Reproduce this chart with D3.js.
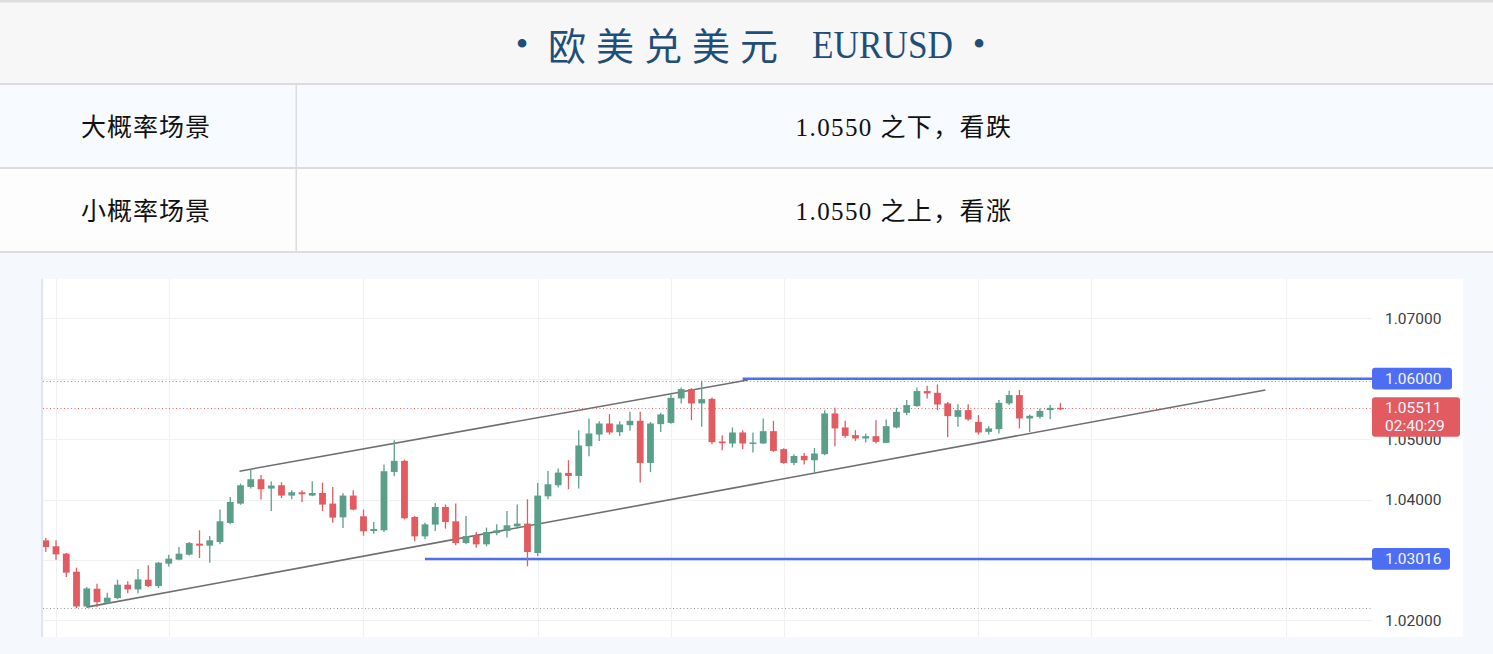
<!DOCTYPE html>
<html><head><meta charset="utf-8">
<script src="https://cdn.jsdelivr.net/npm/d3@7"></script>
<style>html,body{margin:0;padding:0;background:#f5f9fe;overflow:hidden}svg{display:block}</style>
</head><body><svg id="c" width="1493" height="654"></svg>
<script>
// ---------- data ----------
const titleCN = "欧美兑美元";
const titleEN = "EURUSD";
const scenarioLabels = ["大概率场景", "小概率场景"];
const scenarioTexts = ["1.0550 之下，看跌", "1.0550 之上，看涨"];

const opens = [1.03325,1.03226,1.03105,1.02806,1.02231,1.02524,1.02292,1.02369,1.02591,1.02513,
1.02674,1.02568,1.02939,1.03005,1.03088,1.03270,1.03237,1.03297,1.03612,1.03933,
1.04209,1.04336,1.04182,1.04237,1.04066,1.04121,1.04066,1.04109,1.03933,1.03706,
1.04066,1.03723,1.03479,1.03491,1.04457,1.04640,1.03711,1.03391,1.03585,1.03877,
1.03640,1.03280,1.03408,1.03259,1.03446,1.03479,1.03557,1.03602,1.03115,1.04054,
1.04237,1.04441,1.04391,1.04883,1.05077,1.05259,1.05115,1.05231,1.05303,1.04606,
1.05248,1.05269,1.05674,1.05828,1.05591,1.05667,1.04961,1.04928,1.05110,1.04933,
1.04928,1.05132,1.04834,1.04606,1.04722,1.04651,1.04751,1.05425,1.05193,1.05066,
1.05011,1.05049,1.04938,1.05193,1.05435,1.05546,1.05795,1.05767,1.05591,1.05369,
1.05480,1.05286,1.05120,1.05165,1.05591,1.05729,1.05342,1.05369,1.05480,1.05518];
const highs = [1.03363,1.03325,1.03115,1.02873,1.02551,1.02607,1.02458,1.02674,1.02650,1.02849,
1.02911,1.02969,1.03088,1.03214,1.03297,1.03491,1.03396,1.03834,1.04043,1.04265,
1.04497,1.04407,1.04298,1.04286,1.04154,1.04154,1.04303,1.04281,1.04209,1.04104,
1.04154,1.03834,1.03628,1.04580,1.04983,1.04659,1.03728,1.03618,1.03943,1.03917,
1.03933,1.03728,1.03463,1.03536,1.03590,1.03811,1.03917,1.04005,1.04275,1.04474,
1.04514,1.04651,1.05148,1.05342,1.05298,1.05414,1.05298,1.05452,1.05452,1.05281,
1.05435,1.05740,1.05856,1.05845,1.05966,1.05690,1.05066,1.05193,1.05148,1.05110,
1.05342,1.05303,1.04850,1.04751,1.04772,1.04855,1.05480,1.05518,1.05303,1.05148,
1.05094,1.05314,1.05326,1.05518,1.05646,1.05856,1.05883,1.05906,1.05613,1.05579,
1.05579,1.05397,1.05215,1.05646,1.05800,1.05812,1.05409,1.05508,1.05563,1.05601];
const lows = [1.03131,1.03005,1.02717,1.02203,1.02215,1.02220,1.02273,1.02355,1.02451,1.02451,
1.02551,1.02534,1.02894,1.02994,1.03076,1.03032,1.02955,1.03259,1.03590,1.03914,
1.04182,1.04000,1.03811,1.04026,1.04005,1.03960,1.04054,1.03811,1.03618,1.03529,
1.03822,1.03403,1.03436,1.03463,1.04386,1.03673,1.03308,1.03342,1.03479,1.03519,
1.03242,1.03259,1.03204,1.03226,1.03408,1.03370,1.03519,1.02894,1.03065,1.04005,
1.04199,1.04171,1.04182,1.04717,1.04971,1.05077,1.05054,1.05137,1.04281,1.04457,
1.05120,1.05256,1.05591,1.05314,1.05203,1.04916,1.04817,1.04862,1.04834,1.04779,
1.04925,1.04789,1.04593,1.04568,1.04580,1.04447,1.04734,1.04883,1.05021,1.04971,
1.04945,1.04928,1.04933,1.05177,1.05397,1.05538,1.05674,1.05480,1.05037,1.05203,
1.05303,1.05077,1.05077,1.05094,1.05563,1.05177,1.05120,1.05342,1.05331,1.05480];
const closes = [1.03214,1.03093,1.02790,1.02231,1.02529,1.02302,1.02375,1.02591,1.02513,1.02679,
1.02568,1.02955,1.03022,1.03105,1.03280,1.03237,1.03325,1.03640,1.03960,1.04237,
1.04336,1.04171,1.04232,1.04066,1.04121,1.04088,1.04109,1.03917,1.03701,1.04066,
1.03834,1.03474,1.03512,1.04469,1.04640,1.03690,1.03391,1.03590,1.03877,1.03628,
1.03280,1.03396,1.03259,1.03463,1.03491,1.03574,1.03602,1.03131,1.04066,1.04253,
1.04447,1.04391,1.04895,1.05094,1.05259,1.05110,1.05243,1.05303,1.04606,1.05259,
1.05409,1.05684,1.05828,1.05591,1.05662,1.04950,1.04933,1.05110,1.04928,1.04945,
1.05132,1.04805,1.04606,1.04722,1.04651,1.04762,1.05425,1.05177,1.05054,1.05011,
1.05049,1.04955,1.05215,1.05452,1.05563,1.05795,1.05757,1.05574,1.05381,1.05480,
1.05326,1.05110,1.05177,1.05601,1.05729,1.05342,1.05386,1.05468,1.05518,1.05511];

const yTicks = [1.02, 1.03, 1.04, 1.05, 1.06, 1.07];
const gridIndex = [1, 12, 31, 48, 61, 72, 91, 102, 121];   // time grid (bar index)
const resistance = 1.06000, resistanceStart = 68;
const support = 1.03016, supportStart = 37;
const lastPrice = 1.05511, countdown = "02:40:29";
const periodHigh = 1.05966, periodLow = 1.02203;
const upperChannel = [[18.9, 1.0447], [68.5, 1.0598]];
const lowerChannel = [[4.0, 1.0222], [119.0, 1.05812]];

// ---------- page frame ----------
const svg = d3.select("#c");
const W = 1493;
svg.append("rect").attr("x",0).attr("y",0).attr("width",W).attr("height",654).attr("fill","#f5f9fe");
svg.append("rect").attr("x",0).attr("y",0).attr("width",W).attr("height",84).attr("fill","#f7f7f7");
svg.append("rect").attr("x",0).attr("y",0).attr("width",W).attr("height",2.5).attr("fill","#dedede");
const rowBg = ["#f7faff", "#fdfdfd"];
const rowTop = [85, 169];
rowTop.forEach((t,i)=>{
  svg.append("rect").attr("x",0).attr("y",t).attr("width",W).attr("height",82).attr("fill",rowBg[i]);
});
[83, 167, 251].forEach(y=>svg.append("rect").attr("x",0).attr("y",y).attr("width",W).attr("height",2).attr("fill","#dcdcdc"));
svg.append("rect").attr("x",295.5).attr("y",85).attr("width",1.5).attr("height",166).attr("fill","#dcdcdc");

// title
const tcol = "#1f4e79";
svg.append("text").attr("x",522).attr("y",44).attr("text-anchor","middle").attr("dominant-baseline","central")
  .attr("font-family","Liberation Serif").attr("font-size",36).attr("fill",tcol).text("•");
svg.append("text").attr("x",548).attr("y",43).attr("dominant-baseline","central")
  .attr("font-family","'Noto Sans CJK SC'").attr("font-size",38).attr("letter-spacing",10).attr("fill",tcol).text(titleCN);
svg.append("text").attr("x",812).attr("y",44).attr("dominant-baseline","central")
  .attr("font-family","Liberation Serif").attr("font-size",39).attr("textLength",141).attr("lengthAdjust","spacingAndGlyphs").attr("fill",tcol).text(titleEN);
svg.append("text").attr("x",979).attr("y",44).attr("text-anchor","middle").attr("dominant-baseline","central")
  .attr("font-family","Liberation Serif").attr("font-size",36).attr("fill",tcol).text("•");

// table rows
scenarioLabels.forEach((s,i)=>{
  svg.append("text").attr("x",146).attr("y",rowTop[i]+42).attr("text-anchor","middle").attr("dominant-baseline","central")
    .attr("font-family","'Liberation Serif','Noto Sans CJK SC'").attr("font-size",25).attr("letter-spacing",1).attr("fill","#111").text(s);
  svg.append("text").attr("x",904).attr("y",rowTop[i]+42).attr("text-anchor","middle").attr("dominant-baseline","central")
    .attr("font-family","'Liberation Serif','Noto Sans CJK SC'").attr("font-size",25).attr("letter-spacing",1.4).attr("fill","#111").text(scenarioTexts[i]);
});

// ---------- chart ----------
const panel = {x0:41, y0:279, x1:1463, y1:637};
const plot = {x0:43, x1:1372};
svg.append("rect").attr("x",panel.x0).attr("y",panel.y0).attr("width",panel.x1-panel.x0).attr("height",panel.y1-panel.y0).attr("fill","#ffffff");
svg.append("rect").attr("x",panel.x0).attr("y",panel.y0).attr("width",2.2).attr("height",panel.y1-panel.y0).attr("fill","#e1e5ee");

const x = d3.scaleLinear().domain([-0.27, 129.4]).range([plot.x0, plot.x1]);
const y = d3.scaleLinear().domain([1.02, 1.07]).range([620.4, 318.3]);

svg.append("clipPath").attr("id","clip").append("rect")
  .attr("x",plot.x0).attr("y",panel.y0).attr("width",plot.x1-plot.x0).attr("height",panel.y1-panel.y0);
const g = svg.append("g").attr("clip-path","url(#clip)");

// grid
g.selectAll("line.hg").data(yTicks).join("line")
  .attr("x1",plot.x0).attr("x2",plot.x1).attr("y1",d=>Math.round(y(d))+0.5).attr("y2",d=>Math.round(y(d))+0.5)
  .attr("stroke","#f0f1f3").attr("stroke-width",1.2);
g.selectAll("line.vg").data(gridIndex).join("line")
  .attr("x1",d=>Math.round(x(d))+0.5).attr("x2",d=>Math.round(x(d))+0.5).attr("y1",panel.y0).attr("y2",panel.y1)
  .attr("stroke","#f0f1f3").attr("stroke-width",1.2);

// dotted high / low / last lines
[[periodHigh,"#9a9a9a"],[periodLow,"#9a9a9a"],[lastPrice,"#ef6a6f"]].forEach(([v,c])=>{
  g.append("line").attr("x1",plot.x0).attr("x2",plot.x1).attr("y1",Math.round(y(v))+0.5).attr("y2",Math.round(y(v))+0.5)
    .attr("stroke",c).attr("stroke-width",1).attr("stroke-dasharray","1 2.5");
});

// horizontal levels
[[resistance,resistanceStart],[support,supportStart]].forEach(([v,s])=>{
  g.append("line").attr("x1",x(s)).attr("x2",plot.x1).attr("y1",y(v)).attr("y2",y(v))
    .attr("stroke","#4d6ef2").attr("stroke-width",2.6);
});

// channel lines
const line = d3.line().x(d=>x(d[0])).y(d=>y(d[1]));
[upperChannel, lowerChannel].forEach(c=>{
  g.append("path").attr("d",line(c)).attr("fill","none").attr("stroke","#6f6f6f").attr("stroke-width",1.6);
});

// candles
const data = opens.map((o,i)=>({i, o, h:highs[i], l:lows[i], c:closes[i]}));
const up = "#5b9f8b", dn = "#e15b60";
const bw = 6.8;
const cg = g.append("g");
cg.selectAll("line.w").data(data).join("line")
  .attr("x1",d=>x(d.i)).attr("x2",d=>x(d.i)).attr("y1",d=>y(d.h)).attr("y2",d=>y(d.l))
  .attr("stroke",d=>d.c>=d.o?up:dn).attr("stroke-width",1.3);
cg.selectAll("rect.b").data(data).join("rect")
  .attr("x",d=>x(d.i)-bw/2).attr("width",bw)
  .attr("y",d=>y(Math.max(d.o,d.c)))
  .attr("height",d=>Math.max(1.5, Math.abs(y(d.o)-y(d.c))))
  .attr("fill",d=>d.c>=d.o?up:dn);

// right axis (labels under the price tags are covered, as in the reference)
const covered = [resistance, support].map(v=>Math.round(v*100)/100);
const axis = d3.axisRight(y).tickValues(yTicks.filter(t=>!covered.includes(t))).tickSize(0).tickPadding(13).tickFormat(d3.format(".5f"));
const ag = svg.append("g").attr("transform",`translate(${plot.x1},0)`).call(axis);
ag.select(".domain").remove();
ag.selectAll("text").attr("font-family","Roboto, 'Open Sans', sans-serif").attr("font-size",15.5).attr("fill","#3a3d45");

// price tags
function tag(v, lines, color, w){
  const h = lines.length===1 ? 21.6 : 39.4;
  const top = y(v) - 10.9;
  svg.append("rect").attr("x",plot.x1).attr("y",top).attr("width",w).attr("height",h).attr("rx",3).attr("fill",color);
  lines.forEach((t,k)=>{
    svg.append("text").attr("x",plot.x1+13).attr("y",y(v)+k*18).attr("dominant-baseline","central")
      .attr("font-family","Roboto, 'Open Sans', sans-serif").attr("font-size",15.5).attr("fill","#f4f6ff").text(t);
  });
}
tag(resistance, [d3.format(".5f")(resistance)], "#4d6ef2", 80);
tag(support, [d3.format(".5f")(support)], "#4d6ef2", 78);
tag(lastPrice, [d3.format(".5f")(lastPrice), countdown], "#e15b60", 88);
</script></body></html>
